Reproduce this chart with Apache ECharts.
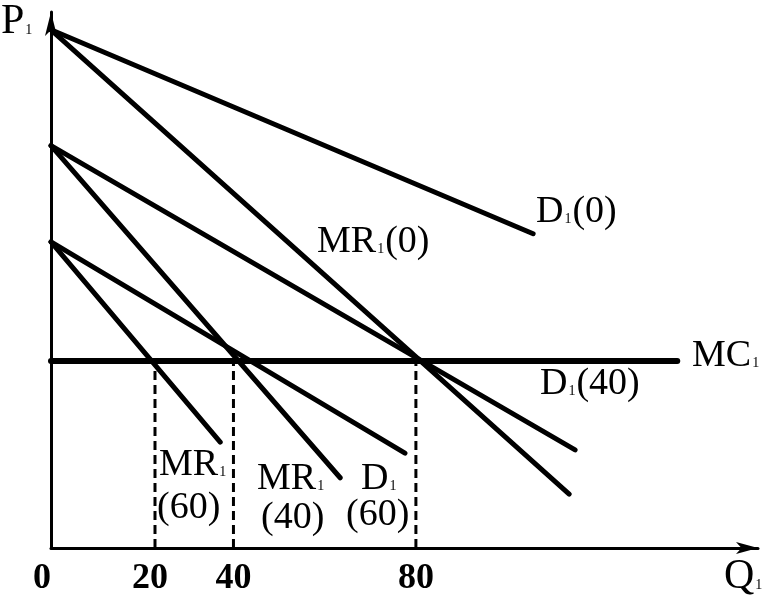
<!DOCTYPE html>
<html><head><meta charset="utf-8">
<script src="https://cdn.jsdelivr.net/npm/echarts@6/dist/echarts.min.js"></script>
<style>html,body{margin:0;padding:0;background:#fff}#c{width:768px;height:598px}</style>
</head><body><div id="c"></div>
<script>
// Tick labels on the Q axis (position, text as printed)
const qTickValues = [0, 22.8, 40, 80];
const qTickLabels = ['0', '20', '40', '80'];

// Curves (Q, P) endpoints
const D1_0  = [[0, 113.6], [105.7, 68.9]];
const MR1_0 = [[0, 113.6], [113.6, 11.8]];
const D1_40 = [[0, 88.2], [114.9, 21.5]];
const MR1_40 = [[0, 88.2], [63.4, 15.4]];
const D1_60 = [[0, 67.1], [77.6, 20.8]];
const MR1_60 = [[0, 67.1], [37.1, 23.2]];
const MC1 = [[0, 41.0], [137.3, 41.0]];
const dashX = [22.8, 40, 80];
const mcLevel = 41.0;

const serif = '"Liberation Serif", "DejaVu Serif", serif';
const chart = echarts.init(document.getElementById('c'));

function solid(name, data, w) {
  return { name, type: 'line', data, showSymbol: false, silent: true,
    lineStyle: { color: '#000', width: w || 5, cap: 'round' } };
}
function dashed(x) {
  return { type: 'line', data: [[x, 0], [x, mcLevel]], showSymbol: false, silent: true,
    lineStyle: { color: '#000', width: 3, type: [9, 5] } };
}
const rich = {
  a: { fontFamily: serif, fontSize: 38, color: '#000', lineHeight: 42 },
  b: { fontFamily: serif, fontSize: 42, color: '#000', lineHeight: 44 },
  s: { fontFamily: serif, fontSize: 14, color: '#000', lineHeight: 14, verticalAlign: 'bottom', padding: [0, 1, 7, 1] }
};
function lbl(x, y, text) {
  return { type: 'text', left: x, top: y, style: { text, rich, fill: '#000' } };
}

chart.setOption({
  animation: false,
  backgroundColor: '#fff',
  grid: { left: 51, right: 10, top: 12, bottom: 50 },
  xAxis: {
    type: 'value', min: 0, max: 155,
    splitLine: { show: false },
    axisTick: { show: false },
    axisLine: { lineStyle: { color: '#000', width: 3 }, symbol: ['none', 'arrow'], symbolSize: [9, 22] },
    axisLabel: {
      customValues: qTickValues, margin: 13,
      formatter: v => {
        const i = qTickValues.indexOf(v);
        if (i < 0) return '';
        return i === 0 ? '{z|' + qTickLabels[i] + '}' : (i === 1 ? '{w|' + qTickLabels[i] + '}' : '{t|' + qTickLabels[i] + '}');
      },
      rich: {
        t: { fontFamily: serif, fontSize: 36, fontWeight: 'bold', color: '#000' },
        z: { fontFamily: serif, fontSize: 36, fontWeight: 'bold', color: '#000', padding: [0, 18, 0, 0] },
        w: { fontFamily: serif, fontSize: 36, fontWeight: 'bold', color: '#000', padding: [0, 10, 0, 0] }
      }
    }
  },
  yAxis: {
    type: 'value', min: 0, max: 117.5,
    splitLine: { show: false },
    axisTick: { show: false },
    axisLabel: { show: false },
    axisLine: { lineStyle: { color: '#000', width: 3 }, symbol: ['none', 'arrow'], symbolSize: [9, 24] }
  },
  series: [
    solid('D1(0)', D1_0), solid('MR1(0)', MR1_0),
    solid('D1(40)', D1_40), solid('MR1(40)', MR1_40),
    solid('D1(60)', D1_60), solid('MR1(60)', MR1_60),
    solid('MC1', MC1, 6),
    dashed(dashX[0]), dashed(dashX[1]), dashed(dashX[2])
  ],
  graphic: [
    lbl(1, 1, '{b|P}{s|1}'),
    lbl(724, 556, '{b|Q}{s|1}'),
    lbl(536, 193, '{a|D}{s|1}{a|(0)}'),
    lbl(317, 223, '{a|MR}{s|1}{a|(0)}'),
    lbl(692, 337, '{a|MC}{s|1}'),
    lbl(540, 365, '{a|D}{s|1}{a|(40)}'),
    lbl(159, 446, '{a|MR}{s|1}'),
    lbl(157, 489, '{a|(60)}'),
    lbl(257, 460, '{a|MR}{s|1}'),
    lbl(261, 499, '{a|(40)}'),
    lbl(361, 460, '{a|D}{s|1}'),
    lbl(346, 496, '{a|(60)}')
  ]
});
</script></body></html>
